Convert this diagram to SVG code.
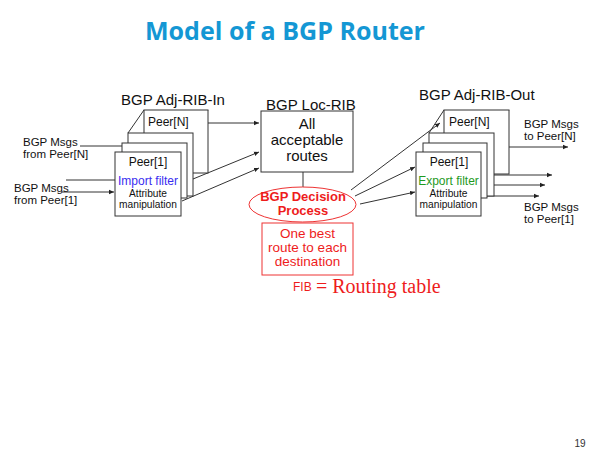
<svg xmlns="http://www.w3.org/2000/svg" width="600" height="450" viewBox="0 0 600 450">
<defs>
<marker id="ah" markerWidth="6" markerHeight="6" refX="5" refY="3" orient="auto" markerUnits="userSpaceOnUse">
<path d="M0,0.8 L5,3 L0,5.2 Z" fill="#222"/>
</marker>
<style>
.t{font-family:"Liberation Sans",Arial,sans-serif;fill:#111}
.s12{font-size:12px}
.s11{font-size:11.5px}
.s15{font-size:15px}
.s10{font-size:10.2px}
.box{fill:#fff;stroke:#333;stroke-width:1}
.ln{stroke:#333;stroke-width:1;fill:none}
.ar{stroke:#333;stroke-width:1;fill:none;marker-end:url(#ah)}
.red{fill:#ee1c1c}
</style>
</defs>
<rect width="600" height="450" fill="#fff"/>
<text x="145" y="40" font-family="'Open Sans','Liberation Sans',sans-serif" font-weight="bold" font-size="25" fill="#1497d4" textLength="280" lengthAdjust="spacingAndGlyphs">Model of a BGP Router</text>

<g id="connectors">
<line class="ln" x1="80" y1="146" x2="122" y2="146"/>
<line class="ln" x1="66" y1="180" x2="115" y2="180"/>
<line class="ar" x1="62" y1="192" x2="114" y2="192"/>
<line class="ar" x1="208" y1="123" x2="259" y2="123"/>
<line class="ar" x1="193" y1="179" x2="259" y2="152"/>
<line class="ar" x1="182" y1="201" x2="259" y2="168"/>
<line class="ln" x1="303" y1="172" x2="303" y2="187"/>
<line class="ar" x1="351" y1="190" x2="440" y2="123"/>
<line class="ar" x1="355" y1="196" x2="415" y2="167"/>
<line class="ar" x1="360" y1="204" x2="415" y2="192"/>
<line class="ar" x1="509" y1="147" x2="568" y2="147"/>
<line class="ar" x1="494" y1="175" x2="552" y2="175"/>
<line class="ar" x1="487" y1="185" x2="545" y2="185"/>
<line class="ar" x1="481" y1="196" x2="539" y2="196"/>
</g>

<g id="in-labels">
<text class="t s11" x="23" y="145.5">BGP Msgs</text>
<text class="t s11" x="23" y="158">from Peer[N]</text>
<text class="t s11" x="14" y="191.5">BGP Msgs</text>
<text class="t s11" x="14" y="204">from Peer[1]</text>
</g>

<g id="adj-rib-in">
<text class="t s15" x="121" y="105">BGP Adj-RIB-In</text>
<line class="ln" x1="144" y1="110" x2="128" y2="133"/>
<line class="ln" x1="208" y1="110" x2="193" y2="133"/>
<rect class="box" x="144" y="110" width="64" height="63"/>
<text class="t s12" x="148" y="126">Peer[N]</text>
<rect class="box" x="128" y="133" width="65" height="63"/>
<rect class="box" x="122" y="143" width="65" height="55"/>
<rect class="box" x="115" y="152" width="66" height="64"/>
<text class="t s12" x="148" y="166" text-anchor="middle">Peer[1]</text>
<text class="t s12" x="148" y="184.5" text-anchor="middle" style="fill:#3a2df0">Import filter</text>
<text class="t s10" x="148" y="197" text-anchor="middle">Attribute</text>
<text class="t s10" x="148" y="208" text-anchor="middle">manipulation</text>
</g>

<g id="loc-rib">
<rect class="box" x="261" y="111" width="92" height="61"/>
<text class="t s15" x="266" y="110">BGP Loc-RIB</text>
<text class="t s15" x="307" y="128.5" text-anchor="middle">All</text>
<text class="t s15" x="307" y="144.5" text-anchor="middle">acceptable</text>
<text class="t s15" x="307" y="160.5" text-anchor="middle">routes</text>
</g>

<g id="decision">
<ellipse cx="302.5" cy="204.5" rx="53.5" ry="17.5" fill="#fff" stroke="#ee3333" stroke-width="1"/>
<text class="t red" x="303" y="200.5" text-anchor="middle" font-size="13" font-weight="bold">BGP Decision</text>
<text class="t red" x="303" y="214.5" text-anchor="middle" font-size="13" font-weight="bold">Process</text>
</g>

<g id="fib">
<rect x="262" y="223" width="91" height="52" fill="#fff" stroke="#ee3333" stroke-width="1"/>
<text class="t red" x="307.5" y="238" text-anchor="middle" font-size="13.5">One best</text>
<text class="t red" x="307.5" y="252" text-anchor="middle" font-size="13.5">route to each</text>
<text class="t red" x="307.5" y="266" text-anchor="middle" font-size="13.5">destination</text>
<text x="293" y="291" font-family="'Liberation Sans',Arial,sans-serif" font-size="12" fill="#ee1c1c">FIB</text>
<text x="316" y="293" font-family="'Liberation Serif','Times New Roman',serif" font-size="20" fill="#ee1c1c">= Routing table</text>
</g>

<g id="adj-rib-out">
<text class="t s15" x="419" y="100">BGP Adj-RIB-Out</text>
<line class="ln" x1="444" y1="110" x2="429" y2="133"/>
<line class="ln" x1="509" y1="110" x2="494" y2="133"/>
<rect class="box" x="444" y="110" width="65" height="64"/>
<text class="t s12" x="449" y="126">Peer[N]</text>
<rect class="box" x="429" y="133" width="65" height="63"/>
<rect class="box" x="423" y="143" width="64" height="55"/>
<rect class="box" x="416" y="152" width="65" height="64"/>
<text class="t s12" x="449" y="166" text-anchor="middle">Peer[1]</text>
<text class="t s12" x="448.5" y="184.5" text-anchor="middle" style="fill:#1f9a1f">Export filter</text>
<text class="t s10" x="448.5" y="196.5" text-anchor="middle">Attribute</text>
<text class="t s10" x="448.5" y="207.5" text-anchor="middle">manipulation</text>
</g>

<g id="out-labels">
<text class="t s11" x="524" y="127.5">BGP Msgs</text>
<text class="t s11" x="524" y="140">to Peer[N]</text>
<text class="t s11" x="524" y="210.5">BGP Msgs</text>
<text class="t s11" x="524" y="223">to Peer[1]</text>
</g>

<text x="580" y="447" text-anchor="middle" font-family="'Liberation Sans',Arial,sans-serif" font-size="10" fill="#333">19</text>
</svg>
